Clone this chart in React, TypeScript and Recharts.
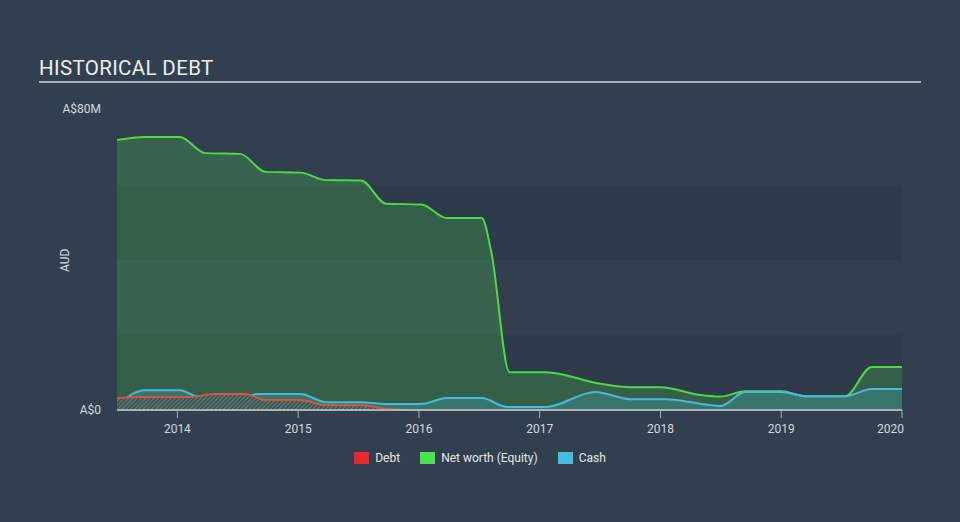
import React from 'react';
import { ComposedChart, Area, XAxis, YAxis, ReferenceArea } from 'recharts';

const netWorthX = [2013.5, 2013.73, 2014.02, 2014.23, 2014.52, 2014.73, 2015.02, 2015.23, 2015.52, 2015.73, 2016.02, 2016.23, 2016.52, 2016.6, 2016.75, 2017.05, 2017.5, 2017.75, 2018.0, 2018.33, 2018.5, 2018.7, 2019.0, 2019.2, 2019.53, 2019.75, 2020.0];
const netWorth = [72, 72.8, 72.8, 68.5, 68.3, 63.5, 63.3, 61.3, 61.2, 55, 54.8, 51.2, 51.2, 42, 10.1, 10.1, 7, 6.1, 6.1, 4, 3.6, 5, 5, 3.7, 3.7, 11.5, 11.5];

const cashX = [2013.5, 2013.73, 2014.02, 2014.18, 2014.52, 2014.68, 2015.02, 2015.23, 2015.52, 2015.73, 2016.02, 2016.23, 2016.52, 2016.73, 2017.05, 2017.46, 2017.75, 2018.04, 2018.5, 2018.7, 2019.0, 2019.2, 2019.53, 2019.75, 2020.0];
const cash = [1.3, 5.3, 5.3, 3.5, 3.5, 4.3, 4.3, 2.1, 2.1, 1.6, 1.6, 3.2, 3.2, 0.8, 0.8, 4.8, 2.9, 2.9, 1.1, 4.8, 4.8, 3.7, 3.7, 5.6, 5.6];

const debtX = [2013.5, 2013.69, 2014.1, 2014.31, 2014.56, 2014.73, 2015.02, 2015.23, 2015.52, 2015.73, 2016.02, 2020.0];
const debt = [3.2, 3.5, 3.5, 4.3, 4.3, 2.7, 2.7, 1.3, 1.3, 0.3, 0, 0];

const yearTicks = [2014, 2015, 2016, 2017, 2018, 2019, 2020];
const yTicks = [0, 80];
const bands = [[0, 20], [40, 60]];

const toPts = (xs: number[], ys: number[]) => xs.map((x, i) => ({ x, y: ys[i] }));

const legendItems = [
  { name: 'Debt', color: '#e8292b' },
  { name: 'Net worth (Equity)', color: '#4ee34e' },
  { name: 'Cash', color: '#48bde0' },
];

const XTick = (props: any) => {
  const { x, y, payload } = props;
  const last = payload.value === 2020;
  return (
    <text x={last ? x + 2 : x} y={y + 13} textAnchor={last ? 'end' : 'middle'} fill="#d3d8de" fontSize={12}>
      {payload.value}
    </text>
  );
};

const YTick = (props: any) => {
  const { x, y, payload } = props;
  return (
    <text x={x} y={y + (payload.value === 80 ? 3 : 4)} textAnchor="end" fill="#d3d8de" fontSize={12}>
      {payload.value === 0 ? 'A$0' : 'A$' + payload.value + 'M'}
    </text>
  );
};

export default function App() {
  return (
    <div style={{ position: 'absolute', left: 0, top: 0, width: 960, height: 522, background: '#323f4f', fontFamily: 'Roboto, sans-serif', overflow: 'hidden' }}>
      <div style={{ position: 'absolute', left: 39, top: 56, fontSize: 20.5, color: '#eceff2', letterSpacing: 0.35 }}>HISTORICAL DEBT</div>
      <div style={{ position: 'absolute', left: 39, top: 81, width: 882, height: 2, background: '#a7b0b9' }} />
      <div style={{ position: 'absolute', left: 58, top: 272, transform: 'rotate(-90deg)', transformOrigin: 'left top', fontSize: 12, color: '#d3d8de' }}>AUD</div>
      <div style={{ position: 'absolute', left: 0, top: 0 }}>
        <ComposedChart width={960} height={522} margin={{ top: 110, right: 58, bottom: 82, left: 57 }}>
          <defs>
            <pattern id="hatch" patternUnits="userSpaceOnUse" width="3" height="3" patternTransform="rotate(45)">
              <rect width="3" height="3" fill="#3d5a52" />
              <line x1="0" y1="0" x2="0" y2="3" stroke="#7e8f8c" strokeWidth="1.2" />
            </pattern>
          </defs>
          <XAxis type="number" dataKey="x" domain={[2013.5, 2020]} ticks={yearTicks} allowDataOverflow
            axisLine={{ stroke: '#a9b1ba', strokeWidth: 2 }} tickLine={{ stroke: '#a9b1ba' }} tickSize={8} tick={<XTick />} interval={0} height={30} />
          <YAxis type="number" domain={[0, 80]} ticks={yTicks} width={60} axisLine={false} tickLine={false} tickSize={0} tick={<YTick />} tickMargin={16} interval={0} />
          {bands.map(([a, b]) => (
            <ReferenceArea key={a} x1={2013.5} x2={2020} y1={a} y2={b} fill="#2c3847" fillOpacity={0.55} stroke="none" ifOverflow="hidden" />
          ))}
          <Area data={toPts(netWorthX, netWorth)} dataKey="y" type="monotone" stroke="#4fd842" strokeWidth={2} fill="#4ee34e" fillOpacity={0.22} isAnimationActive={false} dot={false} activeDot={false} />
          <Area data={toPts(cashX, cash)} dataKey="y" type="monotone" stroke="#4ab8dc" strokeWidth={2} fill="#48bde0" fillOpacity={0.22} isAnimationActive={false} dot={false} activeDot={false} />
          <Area data={toPts(debtX, debt)} dataKey="y" type="monotone" stroke="#d9533f" strokeWidth={2} fill="url(#hatch)" fillOpacity={1} isAnimationActive={false} dot={false} activeDot={false} />
        </ComposedChart>
      </div>
      <div style={{ position: 'absolute', top: 451, left: 0, width: 960, display: 'flex', justifyContent: 'center', fontSize: 12, color: '#e4e8ec' }}>
        {legendItems.map((it, i) => (
          <div key={it.name} style={{ display: 'flex', alignItems: 'center', marginLeft: i === 0 ? 0 : 20 }}>
            <span style={{ display: 'inline-block', width: 15, height: 12, background: it.color, marginRight: 6 }} />
            <span>{it.name}</span>
          </div>
        ))}
      </div>
    </div>
  );
}
